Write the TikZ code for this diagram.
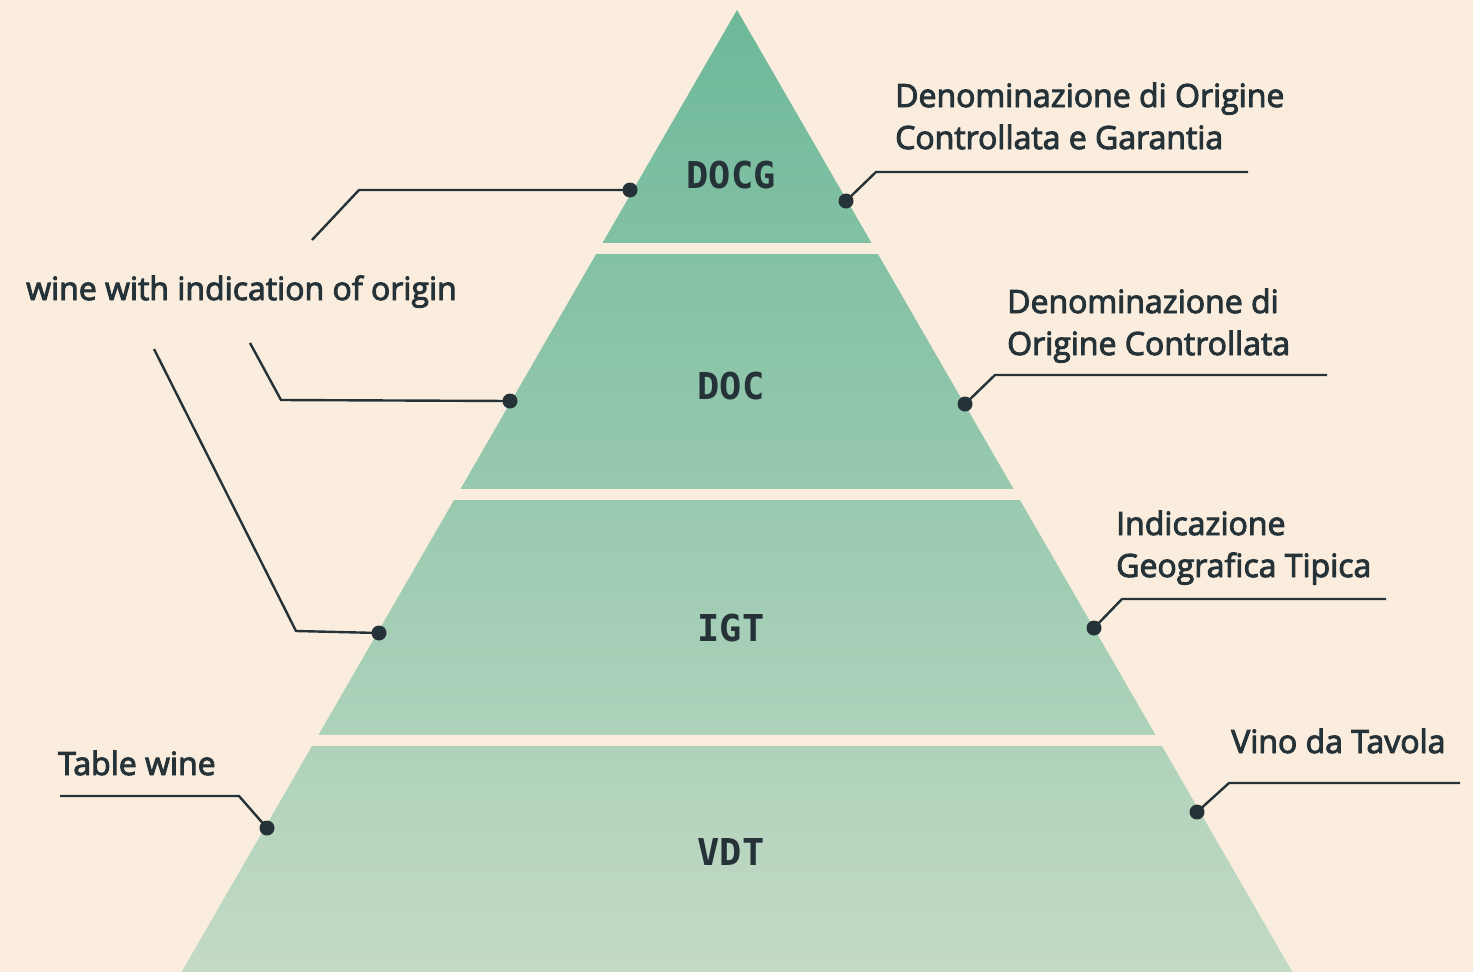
\documentclass[tikz,border=0pt]{standalone}
\usepackage{fontspec}
\newfontfamily\labfont{Open Sans}[FakeBold=3]
\newfontfamily\tierfont{DejaVu Sans Mono Bold}
\definecolor{bgc}{RGB}{250,237,222}
\definecolor{ink}{RGB}{37,50,56}
\definecolor{topg}{RGB}{109,184,153}
\definecolor{botg}{RGB}{195,218,197}
\tikzset{
  conn/.style={draw=ink, line width=2.4pt, line join=miter},
  dotnode/.style={circle, fill=ink, inner sep=0pt, minimum size=15pt},
  lab/.style={anchor=base west, inner sep=0pt, text=ink, font=\labfont\fontsize{32}{38}\selectfont},
  tier/.style={anchor=center, inner sep=0pt, text=ink, font=\tierfont\fontsize{37}{40}\selectfont},
  gapband/.style={fill=bgc, draw=none}
}
\begin{document}
\begin{tikzpicture}[x=1pt,y=-1pt]
\fill[bgc] (0,0) rectangle (1473,972);
\useasboundingbox (0,0) rectangle (1473,972);
% pyramid
\shade[top color=topg, bottom color=botg] (737,10) -- (1292.4,972) -- (181.6,972) -- cycle;
\fill[gapband] (0,242.5) rectangle (1473,254);
\fill[gapband] (0,489) rectangle (1473,500);
\fill[gapband] (0,735) rectangle (1473,746);
% tier labels
\node[tier] (docg) at (731,175) {DOCG};
\node[tier] (doc) at (731,386) {DOC};
\node[tier] (igt) at (731,628) {IGT};
\node[tier] (vdt) at (731,852) {VDT};
% text labels
\node[lab] (l1a) at (895,107) {Denominazione di Origine};
\node[lab] (l1b) at (895,149) {Controllata e Garantia};
\node[lab] (l2) at (26,300) {wine with indication of origin};
\node[lab] (l3a) at (1007,313) {Denominazione di};
\node[lab] (l3b) at (1007,355) {Origine Controllata};
\node[lab] (l4a) at (1116,535) {Indicazione};
\node[lab] (l4b) at (1116,577) {Geografica Tipica};
\node[lab] (l5) at (58,775) {Table wine};
\node[lab] (l6) at (1231,753) {Vino da Tavola};
% dots
\node[dotnode] (p1) at (630,190) {};
\node[dotnode] (p2) at (846,201) {};
\node[dotnode] (p3) at (510,401) {};
\node[dotnode] (p4) at (965,404) {};
\node[dotnode] (p5) at (379,633) {};
\node[dotnode] (p6) at (1094,628) {};
\node[dotnode] (p7) at (267,828) {};
\node[dotnode] (p8) at (1197,812) {};
% connector bend points / free ends
\coordinate (c1a) at (359,190); \coordinate (c1b) at (312,240);
\coordinate (c2a) at (876,172); \coordinate (c2b) at (1248,172);
\coordinate (c3a) at (281,400); \coordinate (c3b) at (250,343);
\coordinate (c4a) at (995,375); \coordinate (c4b) at (1327,375);
\coordinate (c5a) at (296,631); \coordinate (c5b) at (154,349);
\coordinate (c6a) at (1122,599); \coordinate (c6b) at (1386,599);
\coordinate (c7a) at (239,796); \coordinate (c7b) at (60,796);
\coordinate (c8a) at (1229,783); \coordinate (c8b) at (1460,783);
\draw[conn] (p1.center) -- (c1a) -- (c1b);
\draw[conn] (p2.center) -- (c2a) -- (c2b);
\draw[conn] (p3.center) -- (c3a) -- (c3b);
\draw[conn] (p4.center) -- (c4a) -- (c4b);
\draw[conn] (p5.center) -- (c5a) -- (c5b);
\draw[conn] (p6.center) -- (c6a) -- (c6b);
\draw[conn] (p7.center) -- (c7a) -- (c7b);
\draw[conn] (p8.center) -- (c8a) -- (c8b);
\end{tikzpicture}
\end{document}
